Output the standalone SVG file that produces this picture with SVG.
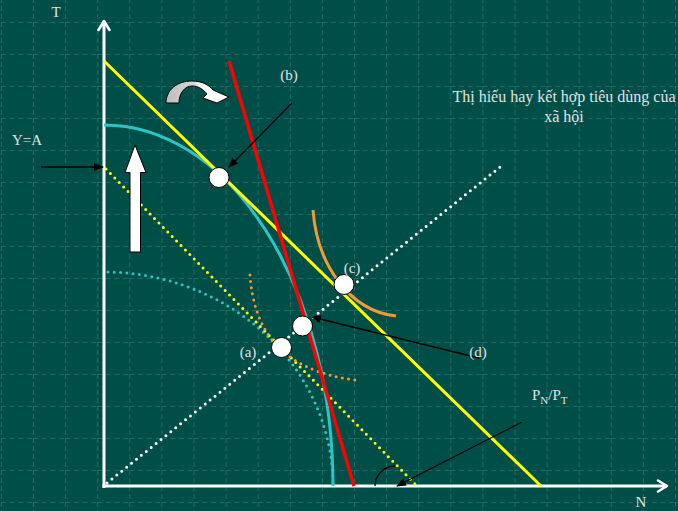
<svg xmlns="http://www.w3.org/2000/svg" width="678" height="511" viewBox="0 0 678 511">
  <defs>
    <pattern id="grid" patternUnits="userSpaceOnUse" x="0.9" y="-10" width="32.1" height="32">
      <line x1="0" y1="0" x2="32.1" y2="0" stroke="#26736d" stroke-width="1.6" stroke-dasharray="5 3.7"/>
      <line x1="0" y1="0" x2="0" y2="32" stroke="#26736d" stroke-width="1.6" stroke-dasharray="5 3"/>
    </pattern>
    <linearGradient id="curveGrad" x1="0" y1="0" x2="1" y2="0">
      <stop offset="0" stop-color="#bdbdbd"/>
      <stop offset="0.45" stop-color="#d6d6d6"/>
      <stop offset="0.55" stop-color="#ffffff"/>
      <stop offset="1" stop-color="#ffffff"/>
    </linearGradient>
    <marker id="blackHead" markerWidth="10" markerHeight="8" refX="9" refY="4" orient="auto" markerUnits="userSpaceOnUse">
      <path d="M0,0 L10,4 L0,8 Z" fill="#000"/>
    </marker>
    <marker id="axisHead" markerWidth="14" markerHeight="14" refX="11" refY="7" orient="auto" markerUnits="userSpaceOnUse">
      <path d="M2,1.5 L11,7 L2,12.5" fill="none" stroke="#fff" stroke-width="2.6" stroke-linecap="round" stroke-linejoin="round"/>
    </marker>
    <style>
      .lbl { font-family: "Liberation Serif", "Times New Roman", serif; font-size: 15px; fill: #e2e2e2; }
      .big { font-family: "Liberation Serif", "Times New Roman", serif; font-size: 16px; fill: #e2e2e2; text-anchor: middle; }
      .axis { stroke: #ffffff; stroke-width: 3; fill: none; }
      .dot { fill: none; stroke-width: 3; stroke-linecap: round; stroke-dasharray: 0 6.3; }
      .pt { fill: #ffffff; stroke: #000; stroke-width: 1; }
      .ptr { stroke: #000; stroke-width: 1.3; fill: none; }
    </style>
  </defs>

  <rect x="0" y="0" width="678" height="511" fill="#004e48"/>
  <rect x="0" y="0" width="678" height="511" fill="url(#grid)"/>

  <g id="axes">
    <line class="axis" x1="104" y1="488" x2="104" y2="21" marker-end="url(#axisHead)"/>
    <line class="axis" x1="102.5" y1="486" x2="667" y2="486" marker-end="url(#axisHead)"/>
    <text class="lbl" x="56" y="17" text-anchor="middle">T</text>
    <text class="lbl" x="641" y="507" text-anchor="middle">N</text>
  </g>

  <g id="curves">
    <path id="ppf-dotted" class="dot" stroke="#2ec4c4" d="M108,272 A229,214 0 0 1 333,486"/>
    <path id="budget-dotted" class="dot" stroke="#ffff00" d="M106,169 L416,485"/>
    <path id="ic-dotted" class="dot" stroke="#f39a35" stroke-width="2.6" d="M250,275 C254,330 280,370 355,380"/>
    <path id="diag-dotted" class="dot" stroke="#ffffff" d="M107,483 L500,167"/>
    <path id="ppf" d="M104,125 A229,361 0 0 1 333,486" fill="none" stroke="#2cc5c5" stroke-width="3"/>
    <path id="budget" d="M104,61 L541,486" fill="none" stroke="#ffff00" stroke-width="3"/>
    <path id="price" d="M229,61 L354,486" fill="none" stroke="#ff0000" stroke-width="3.5"/>
    <path id="ic" d="M313,210 C317,265 350,311 396,316" fill="none" stroke="#f39a35" stroke-width="3"/>
  </g>

  <g id="connectors">
    <line class="ptr" x1="41" y1="167" x2="103" y2="167" marker-end="url(#blackHead)"/>
    <line class="ptr" x1="292" y1="103" x2="229" y2="167" marker-end="url(#blackHead)"/>
    <line class="ptr" x1="479" y1="358" x2="312" y2="317" marker-end="url(#blackHead)"/>
    <line class="ptr" x1="522" y1="422" x2="397" y2="486" marker-end="url(#blackHead)"/>
    <path class="ptr" d="M375,486 A20,20 0 0 1 395,466"/>
  </g>

  <g id="point-b"><circle class="pt" cx="219" cy="177.5" r="10"/><text class="lbl" x="289" y="80" text-anchor="middle">(b)</text></g>
  <g id="point-c"><circle class="pt" cx="344" cy="284.5" r="10"/><text class="lbl" x="352" y="273" text-anchor="middle">(c)</text></g>
  <g id="point-d"><circle class="pt" cx="302.5" cy="326" r="10"/><text class="lbl" x="478" y="357" text-anchor="middle">(d)</text></g>
  <g id="point-a"><circle class="pt" cx="281.5" cy="347.5" r="10"/><text class="lbl" x="248" y="357" text-anchor="middle">(a)</text></g>

  <g id="label-ya"><text class="lbl" x="12" y="145">Y=A</text></g>

  <g id="up-arrow">
    <path d="M135,145 L146,172.5 L140.5,172.5 L140.5,252 L130,252 L130,172.5 L125,172.5 Z" fill="#ffffff" stroke="#000" stroke-width="1"/>
  </g>

  <g id="rotate-arrow">
    <path d="M166,103 C166,90 177,81 192,81 C202,81 209,85 213,90 L229,97 L217,103 L203,98 L207,94 C203,89 198,86 192,86 C185,86 179,93 179,103 Z" fill="url(#curveGrad)" stroke="#000" stroke-width="1"/>
  </g>

  <g id="taste-label">
    <text class="big" x="564" y="102">Thị hiếu hay kết hợp tiêu dùng của</text>
    <text class="big" x="564" y="122">xã hội</text>
  </g>

  <g id="price-label">
    <text class="lbl" x="532" y="400" font-size="16">P<tspan font-size="11" dy="4">N</tspan><tspan dy="-4">/P</tspan><tspan font-size="11" dy="4">T</tspan></text>
  </g>
</svg>
